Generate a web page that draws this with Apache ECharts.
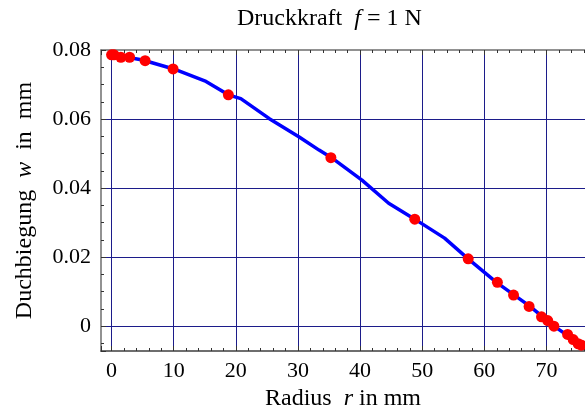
<!DOCTYPE html>
<html>
<head>
<meta charset="utf-8">
<script src="https://cdn.jsdelivr.net/npm/echarts@6/dist/echarts.min.js"></script>
<style>
  html, body { margin: 0; padding: 0; background: #fff; }
  #chart { width: 585px; height: 416px; }
</style>
</head>
<body>
<div id="chart"></div>
<script>
// Kurve (Berechnung)
var curveR = [0, 5, 10, 15.2, 18.8, 20.8, 25.4, 30.2, 33.4, 35.4, 40.3, 44.6, 48.8, 53.6, 57.4, 62, 67.3, 71.2, 76];
var curveW = [0.0787, 0.0771, 0.0745, 0.0709, 0.0670, 0.0659, 0.0601, 0.0548, 0.0510, 0.0488, 0.0423, 0.0356, 0.0310, 0.0255, 0.0195, 0.0126, 0.0058, 0.0000, -0.0059];

// Messpunkte
var measR = [0, 0.4, 1.5, 2.9, 5.4, 9.9, 18.8, 35.3, 48.8, 57.4, 62.1, 64.7, 67.2, 69.2, 70.2, 71.2, 73.4, 74.3, 75.1, 75.6];
var measW = [0.0786, 0.0786, 0.0779, 0.0779, 0.0769, 0.0745, 0.0670, 0.0488, 0.0310, 0.0195, 0.0127, 0.0090, 0.0057, 0.0027, 0.0016, 0.0000, -0.0024, -0.0039, -0.0051, -0.0055];

var serif = 'Liberation Serif';
var gridColor = '#1c1c8a';
var frameColor = '#6e6e6e';

var chart = echarts.init(document.getElementById('chart'));

function pairs(xs, ys) {
    var out = [];
    for (var i = 0; i < xs.length; i++) out.push([xs[i], ys[i]]);
    return out;
}

var richText = {
    a: { fontFamily: serif, fontSize: 24, fontWeight: 'normal', color: '#000' },
    i: { fontFamily: serif, fontSize: 24, fontWeight: 'normal', fontStyle: 'italic', color: '#000' }
};

var option = {
    backgroundColor: '#fff',
    animation: false,
    title: {
        text: '{a|Druckkraft  }{i|f}{a| = 1 N}',
        left: 232,
        top: 2,
        textStyle: { fontWeight: 'normal', rich: richText }
    },
    grid: { left: 101, right: -3, top: 50, bottom: 63 },
    xAxis: [{
        type: 'value',
        min: -1.7,
        max: 76.2,
        splitNumber: 8,
        position: 'bottom',
        name: '{a|Radius  }{i|r}{a| in mm}',
        nameLocation: 'middle',
        nameGap: 36,
        nameTextStyle: { rich: richText },
        axisLine: { show: true, onZero: false, lineStyle: { color: frameColor, width: 2 } },
        axisTick: { show: true, inside: true, length: 5, lineStyle: { color: '#333' } },
        minorTick: { show: true, splitNumber: 5, length: 3, lineStyle: { color: '#333' } },
        axisLabel: { fontFamily: serif, fontSize: 22, color: '#000', margin: 9, showMinLabel: false, showMaxLabel: false },
        splitLine: { show: true, showMinLine: false, showMaxLine: false, lineStyle: { color: gridColor, width: 1 } }
    }, {
        type: 'value',
        min: -1.7,
        max: 76.2,
        splitNumber: 8,
        position: 'top',
        axisLine: { show: true, onZero: false, lineStyle: { color: frameColor, width: 1.5 } },
        axisTick: { show: true, inside: true, length: 5, lineStyle: { color: '#333' } },
        minorTick: { show: true, splitNumber: 5, length: 3, lineStyle: { color: '#333' } },
        axisLabel: { show: false },
        splitLine: { show: false }
    }],
    yAxis: {
        type: 'value',
        min: -0.0072,
        max: 0.08,
        name: '{a|Duchbiegung  }{i|w}{a|  in  mm}',
        nameLocation: 'middle',
        nameGap: 64,
        nameTextStyle: { rich: richText },
        axisLine: { show: true, onZero: false, lineStyle: { color: frameColor, width: 1.5 } },
        axisTick: { show: true, inside: true, length: 5, lineStyle: { color: '#333' } },
        minorTick: { show: true, splitNumber: 4, length: 3, lineStyle: { color: '#333' } },
        axisLabel: {
            fontFamily: serif, fontSize: 22, color: '#000', margin: 10,
            showMinLabel: false,
            formatter: function (v) { return v === 0 ? '0' : v.toFixed(2); }
        },
        splitLine: { show: true, showMinLine: false, showMaxLine: false, lineStyle: { color: gridColor, width: 1 } }
    },
    series: [{
        name: 'Kurve',
        type: 'line',
        data: pairs(curveR, curveW),
        showSymbol: false,
        symbol: 'none',
        clip: true,
        lineStyle: { color: '#0000ff', width: 3.5 },
        z: 2
    }, {
        name: 'Messung',
        type: 'scatter',
        data: pairs(measR, measW),
        symbolSize: 11,
        clip: true,
        itemStyle: { color: '#ff0000', opacity: 1 },
        z: 3
    }]
};

chart.setOption(option);
</script>
</body>
</html>
